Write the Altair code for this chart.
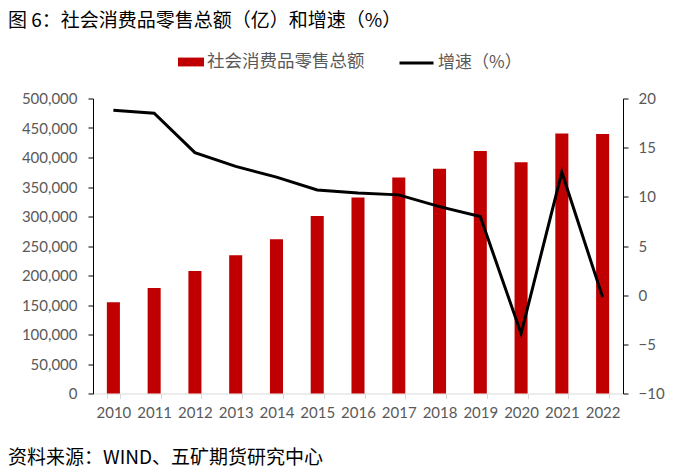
import altair as alt
import pandas as pd

years = ["2010", "2011", "2012", "2013", "2014", "2015", "2016",
         "2017", "2018", "2019", "2020", "2021", "2022"]
sales = [154600, 179000, 207500, 234500, 261500, 300900, 332300,
         366300, 381000, 411000, 391900, 440800, 439700]
growth = [18.8, 18.5, 14.5, 13.1, 12.0, 10.7, 10.4, 10.2, 9.0, 8.0, -3.9, 12.5, -0.2]

title_text = "图 6：社会消费品零售总额（亿）和增速（%）"
source_text = "资料来源：WIND、五矿期货研究中心"
bar_name = "社会消费品零售总额"
line_name = "增速（%）"

df = pd.DataFrame({"year": years, "sales": sales, "growth": growth,
                   "bar_s": [bar_name] * len(years), "line_s": [line_name] * len(years)})

W, H = 530, 295
NUM_FONT = "Lato"
CJK = "Noto Sans CJK SC"
GREY = "#595959"

x = alt.X("year:N", title=None,
          scale=alt.Scale(paddingInner=0.68, paddingOuter=0.34),
          axis=alt.Axis(labelAngle=0, labelFont=NUM_FONT, labelFontSize=15, labelColor=GREY,
                        domainColor="#d9d9d9", tickColor="#d9d9d9", tickSize=5,
                        tickBand="extent", labelPadding=7))

bars = alt.Chart(df).mark_bar(color="#C00000").encode(
    x=x,
    y=alt.Y("sales:Q", title=None,
            scale=alt.Scale(domain=[0, 500000], nice=False),
            axis=alt.Axis(format=",.0f", values=list(range(0, 500001, 50000)),
                          labelFont=NUM_FONT, labelFontSize=15, labelColor=GREY,
                          domainColor="#000000", tickColor="#000000", tickSize=5,
                          labelPadding=11, grid=False)),
    fill=alt.Fill("bar_s:N", title=None,
                  scale=alt.Scale(domain=[bar_name], range=["#C00000"]),
                  legend=alt.Legend(orient="none", legendX=85, legendY=-49.5,
                                    symbolType="M-1,-0.34H1V0.34H-1Z", symbolSize=676,
                                    symbolStrokeWidth=0,
                                    labelFont=CJK, labelFontSize=17.5, labelColor=GREY,
                                    labelOffset=3)),
)

line = alt.Chart(df).mark_line(color="#000000", strokeWidth=3).encode(
    x=x,
    y=alt.Y("growth:Q", title=None,
            scale=alt.Scale(domain=[-10, 20], nice=False),
            axis=alt.Axis(orient="right", values=list(range(-10, 21, 5)),
                          labelFont=NUM_FONT, labelFontSize=15, labelColor=GREY,
                          domainColor="#000000", tickColor="#000000", tickSize=5,
                          labelPadding=10, grid=False)),
    stroke=alt.Stroke("line_s:N", title=None,
                      scale=alt.Scale(domain=[line_name], range=["#000000"]),
                      legend=alt.Legend(orient="none", legendX=305, legendY=-54,
                                        symbolType="stroke", symbolSize=1156,
                                        symbolStrokeWidth=3,
                                        labelFont=CJK, labelFontSize=17, labelColor=GREY,
                                        labelOffset=3)),
)

title = alt.Chart(pd.DataFrame({"t": [title_text]})).mark_text(
    align="left", baseline="middle", font=CJK, fontSize=19, color="#000000"
).encode(text="t:N", x=alt.value(-85), y=alt.value(-78))

source = alt.Chart(pd.DataFrame({"t": [source_text]})).mark_text(
    align="left", baseline="middle", font=CJK, fontSize=19, color="#000000"
).encode(text="t:N", x=alt.value(-85), y=alt.value(359))

chart = alt.layer(bars, line, title, source).resolve_scale(
    y="independent", fill="independent", stroke="independent"
).properties(width=W, height=H, padding={"top": 3.5, "left": 0, "right": 0, "bottom": 0},
             background="white"
).configure_view(stroke=None)

chart.save("out.html", embed_options={"renderer": "svg", "actions": False})
